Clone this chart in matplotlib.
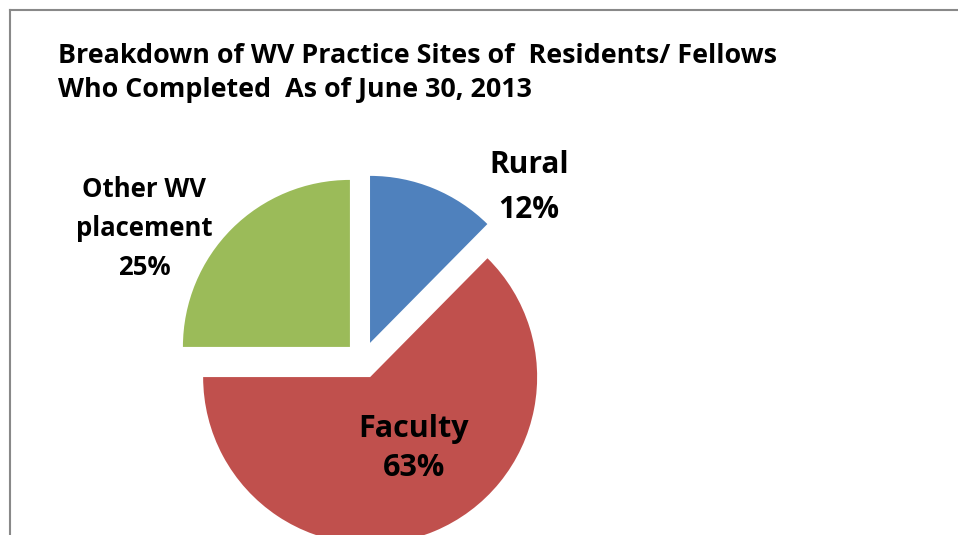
import matplotlib
matplotlib.use("Agg")
import matplotlib.pyplot as plt
from matplotlib.lines import Line2D

# data
categories = ["Rural", "Faculty", "Other WV\nplacement"]
shares = [12.4, 62.6, 25.0]
colors = ["#4F81BD", "#C0504D", "#9BBB59"]

title_lines = ["Breakdown of WV Practice Sites of  Residents/ Fellows",
               "Who Completed  As of June 30, 2013"]

W, H = 958, 535
FONT = "Open Sans"

fig = plt.figure(figsize=(W / 100, H / 100), dpi=100)
fig.patch.set_facecolor("white")
ax = fig.add_axes([0, 0, 1, 1])

# pie in pixel coordinates (y up); explode offset is in data units here
wedges, _ = ax.pie(
    shares,
    colors=colors,
    startangle=90,
    counterclock=False,
    explode=[18.5, 18.5, 18.5],
    center=(363, H - 360),
    radius=167,
    wedgeprops=dict(linewidth=0),
)
ax.set_xlim(0, W)
ax.set_ylim(0, H)
ax.set_aspect("equal")
ax.axis("off")

# chart border (top + left visible)
ax.add_line(Line2D([10.5, W], [H - 10, H - 10], color="#898989", lw=1.5))
ax.add_line(Line2D([10.5, 10.5], [H - 10, 0], color="#898989", lw=1.5))

# title
ax.text(58, H - 63, title_lines[0], fontsize=19.4, fontweight="bold",
        family=FONT, va="baseline", ha="left")
ax.text(58, H - 97, title_lines[1], fontsize=19.4, fontweight="bold",
        family=FONT, va="baseline", ha="left")

# data labels
pct = [f"{v:.0f}%" for v in shares]


def label(x, baselines, lines, size):
    for b, t in zip(baselines, lines):
        ax.text(x, H - b, t, fontsize=size, fontweight="bold", family=FONT,
                ha="center", va="baseline")


label(529, [173, 218], ["Rural", pct[0]], 21.5)
label(414, [437, 476], ["Faculty", pct[1]], 22)
label(144, [197, 236, 275], ["Other WV", "placement", pct[2]], 18.5)

fig.savefig("out.png", dpi=100, facecolor="white")
